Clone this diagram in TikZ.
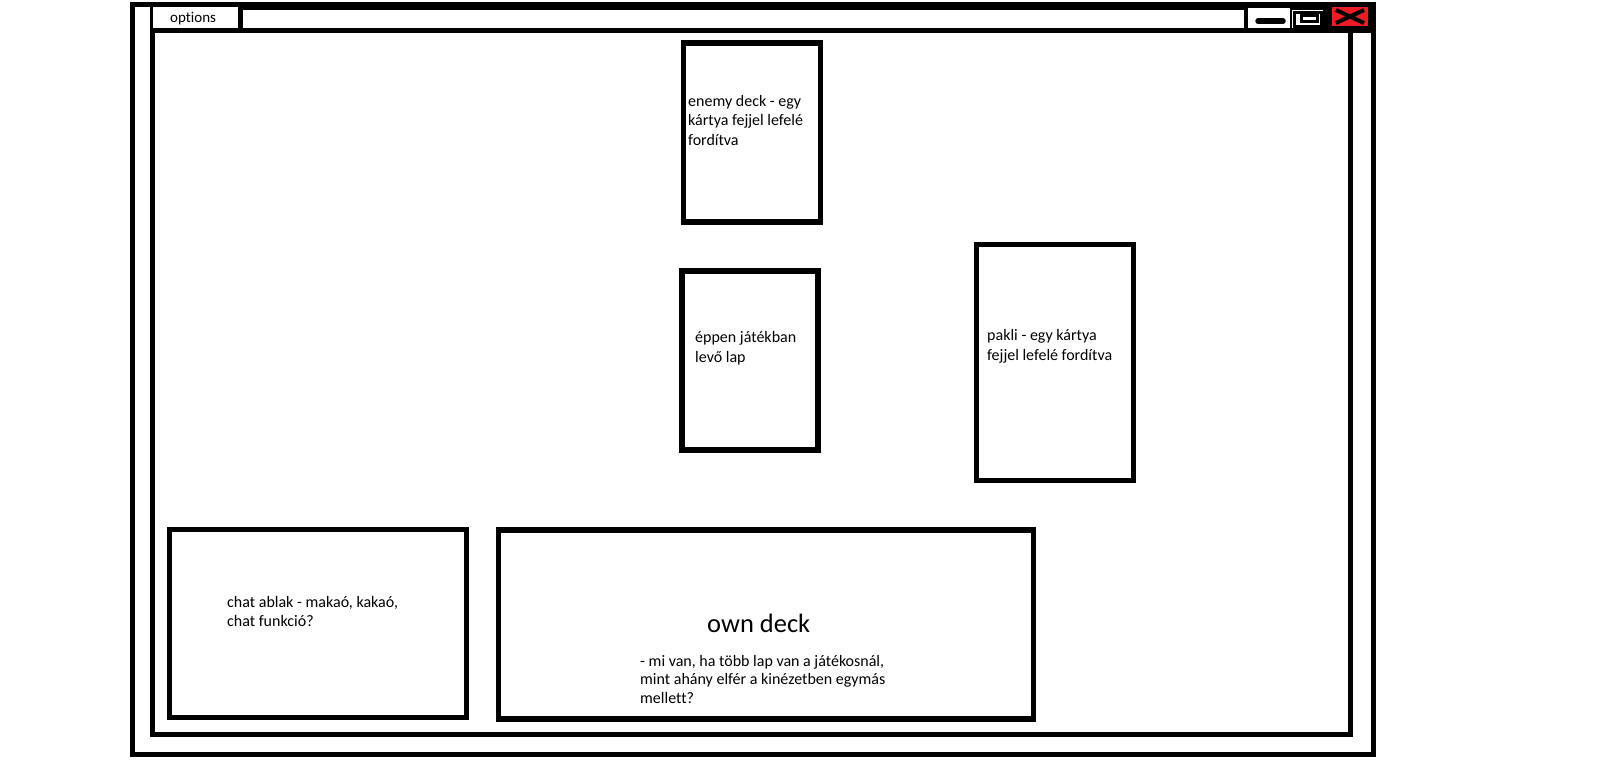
\documentclass[tikz,border=0pt]{standalone}
\usepackage{fontspec}
\setmainfont{Carlito}[Ligatures={NoCommon}]
\definecolor{paintred}{RGB}{237,28,36}
\begin{document}
\begin{tikzpicture}[x=1pt,y=-1pt,
  frame/.style={draw=black,line width=5pt},
  cardbox/.style={draw=black,line width=5.5pt},
  txt/.style={inner sep=0pt,align=left,font=\fontsize{16}{19.5}\selectfont,anchor=base west},
  bigtxt/.style={inner sep=0pt,font=\fontsize{26.5}{32}\selectfont,anchor=base west},
  smalltxt/.style={inner sep=0pt,font=\fontsize{15}{18}\selectfont,anchor=base west}]
\useasboundingbox (0,0) rectangle (1614,774);
\fill[white] (0,0) rectangle (1614,774);
% title bar
\fill[black] (150,2) rectangle (1375.5,33);
\fill[white] (153,7) rectangle (238,28);
\fill[white] (243,9.5) rectangle (1244,28);
\fill[white] (1248,7.5) rectangle (1290,28);
\fill[white] (1292,9.5) rectangle (1323,28);
\fill[paintred] (1332,7) rectangle (1368,26);
% window frames
\draw[frame] (132.5,4.5) rectangle (1373.25,754.5);
\draw[frame] (152.5,30.5) rectangle (1350.5,734.5);
% buttons
\draw[line width=5.5pt,line cap=round] (1258,21) -- (1283,21);
\draw[line width=3pt] (1294.5,12) rectangle (1321,26.5);
\draw[line width=3pt] (1301,15) rectangle (1317,21.5);
\draw[line width=4pt] (1336,10) -- (1364,23) (1336,23) -- (1364,10);
\node[smalltxt] (optlabel) at (170,22) {options};
% cards
\draw[cardbox] (683.5,43) rectangle (820.5,222);
\draw[cardbox] (682,271) rectangle (818,450);
\draw[cardbox] (976.5,244.5) rectangle (1133.5,480.5);
\draw[cardbox] (169.5,529.5) rectangle (466.5,717.5);
\draw[cardbox] (498.5,530) rectangle (1033.5,719);
% texts (anchor = baseline of last line)
\node[txt] (enemy) at (688,145) {enemy deck - egy\\kártya fejjel lefelé\\fordítva};
\node[txt] (current) at (695,362) {éppen játékban\\levő lap};
\node[txt] (pakli) at (987,360) {pakli - egy kártya\\fejjel lefelé fordítva};
\node[txt] (chat) at (227,626.5) {chat ablak - makaó, kakaó,\\chat funkció?};
\node[bigtxt] (own) at (707,632.5) {own deck};
\node[txt,font=\fontsize{16}{18.5}\selectfont] (ownq) at (640,703) {- mi van, ha több lap van a játékosnál,\\mint ahány elfér a kinézetben egymás\\mellett?};
\end{tikzpicture}
\end{document}
